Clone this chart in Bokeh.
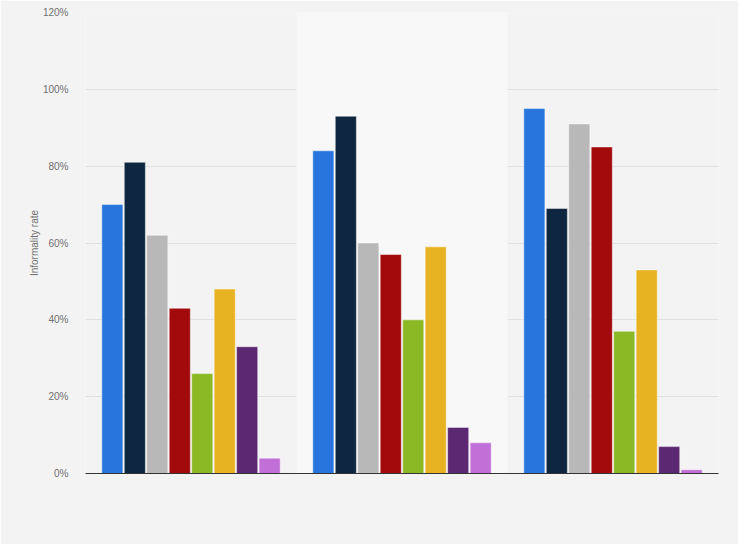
from bokeh.plotting import figure
from bokeh.models import FactorRange, FixedTicker, PrintfTickFormatter, BoxAnnotation, ColumnDataSource
from bokeh.transform import dodge
from bokeh.embed import file_html
from bokeh.resources import INLINE

groups = ["Group 1", "Group 2", "Group 3"]
series_names = ["S1", "S2", "S3", "S4", "S5", "S6", "S7", "S8"]
s1 = [70, 84, 95]
s2 = [81, 93, 69]
s3 = [62, 60, 91]
s4 = [43, 57, 85]
s5 = [26, 40, 37]
s6 = [48, 59, 53]
s7 = [33, 12, 7]
s8 = [4, 8, 1]
series = [s1, s2, s3, s4, s5, s6, s7, s8]
colors = ["#2876dd", "#0f2640", "#b8b8b8", "#a30a0b", "#8ab925", "#e8b323", "#5c2872", "#c170d8"]
y_ticks = [0, 20, 40, 60, 80, 100, 120]

W, H = 738, 544
p = figure(x_range=FactorRange(*groups, range_padding=0, factor_padding=0), y_range=(0, 120),
           width=W, height=H, output_backend="svg", toolbar_location=None,
           min_border_left=85, min_border_right=20, min_border_top=12, min_border_bottom=71)
p.background_fill_color = "#f3f3f3"
p.border_fill_color = "#f3f3f3"
p.outline_line_color = None

p.add_layout(BoxAnnotation(left=1, right=2, fill_color="#f8f8f8", fill_alpha=1, line_color=None, level="underlay"))

data = {"g": groups}
for name, vals in zip(series_names, series):
    data[name] = vals
src = ColumnDataSource(data)

pitch = 0.1065
bw = 0.1
for i, (name, c) in enumerate(zip(series_names, colors)):
    off = (i - 3.5) * pitch
    p.vbar(x=dodge("g", off, range=p.x_range), top=name, width=bw, source=src,
           fill_color=c, line_color="white", line_alpha=0.45, line_width=1)

p.xgrid.grid_line_color = None
p.ygrid.grid_line_color = "#cccccc"
p.ygrid.grid_line_dash = "1 1"
p.ygrid.ticker = FixedTicker(ticks=y_ticks)

p.yaxis.ticker = FixedTicker(ticks=y_ticks)
p.yaxis.formatter = PrintfTickFormatter(format="%d%%")
p.yaxis.axis_line_color = None
p.yaxis.major_tick_line_color = None
p.yaxis.minor_tick_line_color = None
p.yaxis.major_label_text_font = "Liberation Sans"
p.yaxis.major_label_text_font_size = "10px"
p.yaxis.major_label_text_color = "#707070"
p.yaxis.major_label_standoff = 11
p.yaxis.axis_label = "Informality rate"
p.yaxis.axis_label_text_font = "Liberation Sans"
p.yaxis.axis_label_text_font_size = "10px"
p.yaxis.axis_label_text_font_style = "normal"
p.yaxis.axis_label_text_color = "#707070"
p.yaxis.axis_label_standoff = 0

p.xaxis.axis_line_color = "#333333"
p.xaxis.axis_line_width = 1
p.xaxis.major_tick_line_color = None
p.xaxis.minor_tick_line_color = None
p.xaxis.major_label_text_alpha = 0
p.xaxis.major_label_text_font_size = "1px"

open("out.html", "w").write(file_html(p, INLINE))
